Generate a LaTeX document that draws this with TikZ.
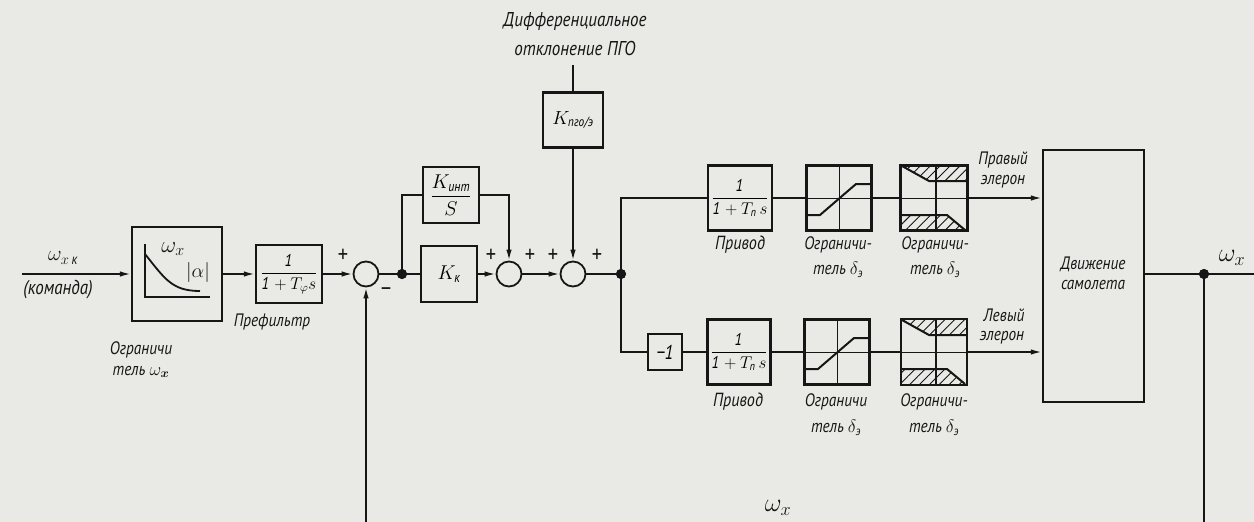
\RequirePackage{fix-cm}
\documentclass[tikz,border=0pt]{standalone}
\usepackage{fontspec}
\usepackage{amsmath}
\setmainfont{PT Sans}[FakeStretch=0.85]
\usetikzlibrary{arrows.meta,patterns.meta}
\definecolor{bg}{RGB}{233,233,230}
\definecolor{ink}{RGB}{22,22,22}
\newcommand\satlim[1]{%
  \begin{scope}[shift={(#1.center)}]
    \draw[ink,line width=1pt] (0,-32) -- (0,32);
    \draw[ink,line width=0.8pt] (-32,0) -- (32,0);
    \draw[ink,line width=2pt] (-32,17) -- (-19,17) -- (17,-14) -- (32,-14);
  \end{scope}}
\newcommand\hatchlim[1]{%
  \begin{scope}[shift={(#1.center)}]
    \fill[pattern={Lines[angle=45,distance=7pt,line width=0.9pt]},pattern color=ink]
      (-32,-32) -- (-5,-17) -- (32,-17) -- (32,-32) -- cycle;
    \fill[pattern={Lines[angle=45,distance=7pt,line width=0.9pt]},pattern color=ink]
      (-32,17) -- (13,17) -- (31,32) -- (-32,32) -- cycle;
    \draw[ink,line width=1.2pt] (2,-32) -- (2,32);
    \draw[ink,line width=0.8pt] (-32,0) -- (32,0);
    \draw[ink,line width=2pt] (-32,-32) -- (-5,-17) -- (32,-17);
    \draw[ink,line width=2pt] (-32,17) -- (13,17) -- (31,32);
  \end{scope}}
\begin{document}
\begin{tikzpicture}[x=1pt,y=-1pt,
  line width=1.8pt, draw=ink,
  blk/.style={draw=ink, line width=2.2pt, inner sep=1pt, font=\fontsize{17}{19}\selectfont},
  sumc/.style={circle, draw=ink, line width=1.8pt, minimum size=25pt, inner sep=0pt},
  jdot/.style={circle, fill=ink, minimum size=10pt, inner sep=0pt},
  arr/.style={-{Latex[length=11pt,width=5.5pt]}},
  lbl/.style={font=\itshape\fontsize{18}{20}\selectfont, inner sep=0pt, text=ink},
  sgn/.style={font=\fontsize{18}{20}\selectfont, inner sep=0pt, text=ink},
  pm/.style={font=\fontsize{24}{26}\selectfont, inner sep=0pt, text=ink}]
\fill[bg] (0,0) rectangle (1254,522);
\useasboundingbox (0,0) rectangle (1254,522);

% nodes
\coordinate (in) at (22,274);
\node[blk, minimum width=90pt, minimum height=94pt] (lim) at (177,274) {};
\node[blk, minimum width=66pt, minimum height=58pt] (pf) at (289,274) {$\displaystyle\frac{\mathit{1}}{\mathit{1}+T_{\varphi}s}$};
\node[sumc] (s1) at (366,274) {};
\node[jdot] (d1) at (402,274) {};
\node[blk, minimum width=56pt, minimum height=56pt, font=\fontsize{20}{22}\selectfont] (kint) at (451,195) {$\displaystyle\frac{K_{\text{\itshape инт}}}{S}$};
\node[blk, minimum width=56pt, minimum height=56pt, font=\fontsize{20}{22}\selectfont] (kk) at (449,274) {$K_{\text{\itshape к}}$};
\node[sumc] (s2) at (509,274) {};
\node[sumc] (s3) at (573,274) {};
\node[blk, minimum width=60pt, minimum height=55pt, font=\fontsize{19}{21}\selectfont] (kpgo) at (573,120) {$K_{\text{\itshape пго/э}}$};
\coordinate (top) at (573,65);
\node[jdot] (d2) at (621,274) {};
\node[blk, minimum width=64pt, minimum height=65pt] (pr1) at (740,198) {$\displaystyle\frac{\mathit{1}}{\mathit{1}+T_{\text{\itshape п}}\,s}$};
\node[blk, minimum width=65pt, minimum height=65pt] (l1u) at (839,198) {};
\node[blk, minimum width=67pt, minimum height=65pt] (l2u) at (934,198) {};
\node[blk, minimum width=101pt, minimum height=252pt] (big) at (1093.5,276) {};
\node[blk, minimum width=34pt, minimum height=36pt, font=\itshape\fontsize{20}{22}\selectfont] (neg) at (665,352) {−1};
\node[blk, minimum width=63pt, minimum height=65pt] (pr2) at (739,352) {$\displaystyle\frac{\mathit{1}}{\mathit{1}+T_{\text{\itshape п}}\,s}$};
\node[blk, minimum width=65pt, minimum height=65pt] (l1l) at (837,352) {};
\node[blk, minimum width=66pt, minimum height=66pt] (l2l) at (934,352) {};
\node[jdot] (d3) at (1204,274) {};
\coordinate (out) at (1254,274);

% block internals
\begin{scope}[shift={(lim.center)}]
  \draw[ink,line width=1.5pt] (-32,-30) -- (-32,23) -- (33,23);
  \draw[ink,line width=1.8pt] (-32,-20) .. controls (-12,5) and (-5,17) .. (23,17);
  \node[sgn,font=\fontsize{23}{25}\selectfont] at (-4,-25) {$\omega_x$};
  \node[sgn,font=\fontsize{20}{22}\selectfont] at (21,-2) {$|\alpha|$};
\end{scope}
\satlim{l1u}
\satlim{l1l}
\hatchlim{l2u}
\hatchlim{l2l}

% connectors
\draw[arr] (in) -- (lim.west);
\draw[arr] (lim.east) -- (pf.west);
\draw[arr] (pf.east) -- (s1.west);
\draw (s1.east) -- (d1.center);
\draw (d1.center) -- (kk.west);
\draw (d1.center) |- (kint.west);
\draw[arr] (kint.east) -| (s2.north);
\draw[arr] (kk.east) -- (s2.west);
\draw[arr] (s2.east) -- (s3.west);
\draw (top) -- (kpgo.north);
\draw[arr] (kpgo.south) -- (s3.north);
\draw (s3.east) -- (d2.center);
\draw (d2.center) |- (pr1.west);
\draw (pr1.east) -- (l1u.west);
\draw (l1u.east) -- (l2u.west);
\draw[arr] (l2u.east) -- (big.west |- l2u.east);
\draw (d2.center) |- (neg.west);
\draw (neg.east) -- (pr2.west);
\draw (pr2.east) -- (l1l.west);
\draw (l1l.east) -- (l2l.west);
\draw[arr] (l2l.east) -- (big.west |- l2l.east);
\draw (big.east |- d3) -- (d3.center);
\draw (d3.center) -- (out);
\draw[arr] (d3.center) -- ++(0,255) -| (s1.south);
\node[jdot] at (d1) {};
\node[jdot] at (d2) {};
\node[jdot] at (d3) {};

% signs
\node[pm] at (343,256) {+};
\node[pm] at (386,292) {–};
\node[pm] at (491,256) {+};
\node[pm] at (530,256) {+};
\node[pm] at (553,256) {+};
\node[pm] at (597,256) {+};

% labels
\node[sgn,font=\fontsize{21}{23}\selectfont] at (63,258) {$\omega_{x\,\text{\itshape к}}$};
\node[lbl,font=\itshape\fontsize{20}{22}\selectfont] at (58,290) {(команда)};
\node[lbl] at (141,350) {Ограничи};
\node[lbl] at (141,372) {тель $\omega_{\boldsymbol{x}}$};
\node[lbl] at (272,322) {Префильтр};
\node[lbl,font=\itshape\fontsize{20}{22}\selectfont] at (575,22) {Дифференциальное};
\node[lbl,font=\itshape\fontsize{20}{22}\selectfont] at (575,48) {отклонение ПГО};
\node[lbl,font=\itshape\fontsize{19}{21}\selectfont] at (740,245) {Привод};
\node[lbl] at (838,245) {Ограничи-};
\node[lbl] at (838,270) {тель $\delta_{\text{э}}$};
\node[lbl] at (935,245) {Ограничи-};
\node[lbl] at (935,270) {тель $\delta_{\text{э}}$};
\node[lbl] at (1003,160) {Правый};
\node[lbl] at (1003,182) {элерон};
\node[lbl] at (1004,315) {Левый};
\node[lbl] at (1002,338) {элерон};
\node[lbl] at (1093,264) {Движение};
\node[lbl] at (1093,285) {самолета};
\node[lbl,font=\itshape\fontsize{19}{21}\selectfont] at (738,402) {Привод};
\node[lbl] at (836,402) {Ограничи};
\node[lbl] at (836,428) {тель $\delta_{\text{э}}$};
\node[lbl] at (934,402) {Ограничи-};
\node[lbl] at (934,428) {тель $\delta_{\text{э}}$};
\node[sgn,font=\fontsize{26}{28}\selectfont] at (1232,258) {$\omega_x$};
\node[sgn,font=\fontsize{26}{28}\selectfont] at (778,508) {$\omega_x$};
\end{tikzpicture}
\end{document}
